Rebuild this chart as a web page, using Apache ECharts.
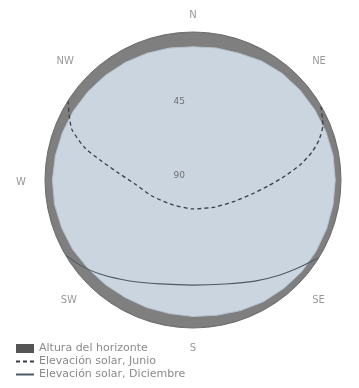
<!DOCTYPE html>
<html><head><meta charset="utf-8">
<script src="https://cdn.jsdelivr.net/npm/echarts@6/dist/echarts.min.js"></script>
<style>html,body{margin:0;padding:0;background:#fff}#c{width:359px;height:388px}</style>
</head><body><div id="c"></div>
<script>
// Compass labels for azimuth ticks 0,45,...,315
const directionLabels = ['N', 'NE', 'E', 'SE', 'S', 'SW', 'W', 'NW'];
// Radial tick labels (elevation) from center outward
const radiusTickLabels = ['90', '45', '0'];
// Horizon profile: azimuth (deg from N, clockwise) and horizon elevation (deg)
const horizonAzimuth = [0,10,20,30,40,50,60,70,80,90,100,110,120,130,140,150,160,170,180,190,200,210,220,230,240,250,260,270,280,290,300,310,320,330,340,350,360];
const horizonElevation = [9,8.5,8,6.5,5.5,5,4.5,4,3.5,3.5,3.5,3.5,3.5,3.5,4,4.5,5.5,6.5,7,7.5,7.5,7.5,7,6.5,5.5,5,4.5,4.5,5,5.5,6,6.5,7,7.5,8,8.5,9];
// Solar path, June
const juneAzimuth = [302.4,297.7,292.5,286.5,282.1,276,266.1,248.7,223.8,180,140.8,116.6,103.3,94.6,87.5,82,76.8,72.4,67.1,59.8];
const juneElevation = [0,4.9,10.4,21.5,32.2,43.5,54.6,63.2,69.8,72.4,68.8,61.4,53.1,44.2,34,24.3,15.7,9.6,4.2,0];
// Solar path, December
const decAzimuth = [239.6,233,224.7,212,197.6,180,162.9,148.5,137.5,129.1,121.6];
const decElevation = [0,4,9.6,17.6,23.7,26.1,23.8,17.9,11.7,6.1,0];

const seriesNames = ['Altura del horizonte', 'Elevación solar, Junio', 'Elevación solar, Diciembre'];

const toPolar = (az, el) => az.map((a, i) => [90 - el[i], a]);

// label nudges (style only)
const dirRich = {
  d0: { padding: [0, 0, 0, 0] },
  d1: { padding: [0, 0, 0, 6] },
  d2: { padding: [0, 0, 0, 14] },
  d3: { padding: [2, 0, 0, 6] },
  d4: { padding: [3, 0, 0, 0] },
  d5: { padding: [2, 3, 0, 0] },
  d6: { padding: [4, 7, 0, 0] },
  d7: { padding: [0, 6, 0, 0] }
};
Object.keys(dirRich).forEach(k => Object.assign(dirRich[k], { color: '#9a9a9a', fontSize: 10, fontFamily: 'DejaVu Sans, sans-serif' }));

const chart = echarts.init(document.getElementById('c'), null, {renderer: 'canvas'});
chart.setOption({
  animation: false,
  backgroundColor: '#ffffff',
  polar: { center: [193, 180], radius: 148 },
  angleAxis: {
    type: 'value', min: 0, max: 360, interval: 45, startAngle: 90, clockwise: true,
    axisLine: { show: true, lineStyle: { color: '#6e6e6e', width: 1 } },
    axisTick: { show: false },
    splitLine: { show: false },
    axisLabel: {
      margin: 12,
      color: '#9a9a9a', fontSize: 10, fontFamily: 'DejaVu Sans, sans-serif',
      formatter: (v) => { const i = Math.round(v / 45) % 8; return '{d' + i + '|' + directionLabels[i] + '}'; },
      rich: dirRich
    }
  },
  radiusAxis: {
    type: 'value', min: 0, max: 90, interval: 45, z: 10,
    axisLine: { show: false }, axisTick: { show: false }, splitLine: { show: false },
    axisLabel: {
      showMaxLabel: false, color: '#6f6f6f', fontSize: 9, verticalAlign: 'bottom',
      fontFamily: 'DejaVu Sans, sans-serif',
      formatter: (v, i) => radiusTickLabels[i]
    }
  },
  legend: {
    orient: 'vertical', left: 15, top: 343, padding: 0, itemGap: 2, itemWidth: 18, itemHeight: 9,
    textStyle: { color: '#8a8a8a', fontSize: 11, fontFamily: 'DejaVu Sans, sans-serif' },
    data: [
      { name: seriesNames[0], icon: 'rect', itemStyle: { color: '#555555' } },
      { name: seriesNames[1], itemStyle: { color: 'transparent', opacity: 0, borderWidth: 0 } },
      { name: seriesNames[2], itemStyle: { color: 'transparent', opacity: 0, borderWidth: 0 } }
    ]
  },
  series: [
    {
      name: seriesNames[0], type: 'line', coordinateSystem: 'polar', symbol: 'none', silent: true,
      data: horizonAzimuth.map(a => [90, a]),
      lineStyle: { color: '#6e6e6e', width: 1 },
      itemStyle: { color: '#555555' },
      areaStyle: { color: '#7f7f7f', opacity: 1 }, z: 1
    },
    {
      name: 'cielo', type: 'line', coordinateSystem: 'polar', symbol: 'none', silent: true,
      data: toPolar(horizonAzimuth, horizonElevation),
      lineStyle: { color: '#b5c1cc', width: 1 },
      areaStyle: { color: '#cad5df', opacity: 1 }, z: 2
    },
    {
      name: seriesNames[1], type: 'line', coordinateSystem: 'polar', symbol: 'none', smooth: 0.2,
      data: toPolar(juneAzimuth, juneElevation),
      lineStyle: { color: '#3a3f45', width: 1.3, type: [4, 3] },
      itemStyle: { color: '#3a3f45' }, z: 3
    },
    {
      name: seriesNames[2], type: 'line', coordinateSystem: 'polar', symbol: 'none', smooth: 0.2,
      data: toPolar(decAzimuth, decElevation),
      lineStyle: { color: '#4d5966', width: 1.1 },
      itemStyle: { color: '#4d5966' }, z: 3
    }
  ]
});
</script></body></html>
